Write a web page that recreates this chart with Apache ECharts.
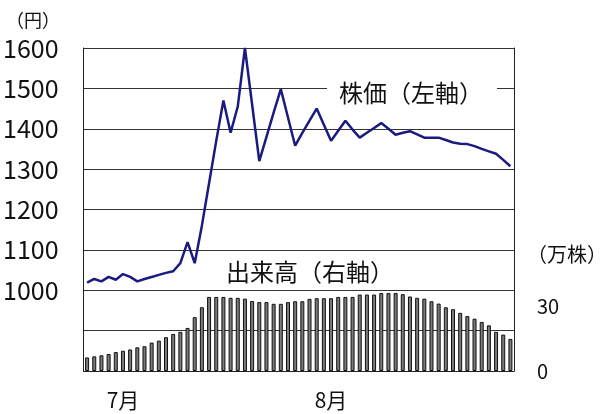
<!DOCTYPE html>
<html>
<head>
<meta charset="utf-8">
<script src="https://cdn.jsdelivr.net/npm/echarts@6/dist/echarts.min.js"></script>
<style>
html,body{margin:0;padding:0;background:#fff;}
#chart{width:600px;height:414px;}
</style>
</head>
<body>
<div id="chart"></div>
<script>
// Categories: 60 trading days; only month starts labelled
const days = ['', '', '', '', '', '7月', '', '', '', '',
  '', '', '', '', '', '', '', '', '', '',
  '', '', '', '', '', '', '', '', '', '',
  '', '', '', '', '8月', '', '', '', '', '',
  '', '', '', '', '', '', '', '', '', '',
  '', '', '', '', '', '', '', '', '', ''];

// Stock price (円), left axis
const price = [1019, 1028, 1022, 1033, 1026, 1040, 1033, 1022, 1028, 1033,
  1038, 1043, 1047, 1067, 1119, 1067, 1160, 1265, 1370, 1470,
  1390, 1455, 1600, 1460, 1320, 1380, 1440, 1498, 1428, 1358,
  1390, 1420, 1450, 1410, 1370, 1395, 1420, 1398, 1378, 1390,
  1402, 1414, 1400, 1385, 1390, 1394, 1386, 1378, 1378, 1378,
  1372, 1366, 1363, 1362, 1357, 1350, 1344, 1338, 1323, 1307];

// Volume (万株), right axis
const volume = [6.3, 6.8, 7.3, 7.9, 8.8, 9.4, 10.0, 11.0, 11.5, 13.2,
  14.1, 15.7, 17.2, 18.2, 20.0, 25.0, 29.6, 34.4, 34.4, 34.4,
  34.0, 34.0, 33.6, 32.5, 32.0, 32.0, 31.2, 31.2, 32.0, 32.4,
  32.4, 33.5, 33.8, 33.8, 33.8, 34.4, 34.4, 34.4, 35.5, 35.5,
  35.5, 36.2, 36.2, 36.2, 35.7, 34.6, 34.0, 33.6, 32.4, 31.3,
  29.6, 28.7, 27.0, 25.5, 24.3, 22.8, 21.2, 18.2, 16.9, 14.9];

// Tick labels
const leftTicks = [1000, 1100, 1200, 1300, 1400, 1500, 1600];
const rightTicks = [0, 30];

const FONT = '"Noto Sans CJK JP", "Noto Sans", sans-serif';
const chart = echarts.init(document.getElementById('chart'), null, {renderer: 'canvas'});

chart.setOption({
  animation: false,
  backgroundColor: '#fff',
  grid: {left: 80, right: 86, top: 48, bottom: 43, containLabel: false},
  xAxis: {
    type: 'category',
    data: days,
    boundaryGap: true,
    axisLine: {show: true, lineStyle: {color: '#222', width: 1}},
    axisTick: {show: false},
    axisLabel: {interval: 0, margin: 19, fontSize: 21, color: '#111', fontFamily: FONT},
    splitLine: {show: false}
  },
  yAxis: [{
    type: 'value',
    min: 800, max: 1600, interval: 100,
    axisLine: {show: true, lineStyle: {color: '#222', width: 1}},
    axisTick: {show: false},
    axisLabel: {
      margin: 25, fontSize: 25, color: '#111', fontFamily: FONT,
      padding: [5, 0, 0, 0],
      formatter: v => leftTicks.indexOf(v) >= 0 ? String(v) : ''
    },
    splitLine: {show: true, lineStyle: {color: '#333', width: 1}}
  }, {
    type: 'value',
    min: 0, max: 150, interval: 30,
    position: 'right',
    axisLine: {show: true, lineStyle: {color: '#222', width: 1}},
    axisTick: {show: false},
    axisLabel: {
      margin: 23, fontSize: 20, color: '#111', fontFamily: FONT,
      padding: [7, 0, 0, 0],
      formatter: v => rightTicks.indexOf(v) >= 0 ? String(v) : ''
    },
    splitLine: {show: false}
  }],
  series: [{
    type: 'bar',
    yAxisIndex: 1,
    data: volume,
    barWidth: 4,
    itemStyle: {color: '#7a7a7a', borderColor: '#111', borderWidth: 1}
  }, {
    type: 'line',
    yAxisIndex: 0,
    data: price,
    symbol: 'none',
    lineStyle: {color: '#1a1a80', width: 2.5},
    z: 5
  }],
  graphic: [
    {type: 'rect', z: 50, shape: {x: 327, y: 72, width: 170, height: 40}, style: {fill: '#fff'}},
    {type: 'text', z: 51, x: 339, y: 93, style: {text: '株価（左軸）', font: '24px ' + FONT, fill: '#111', align: 'left', verticalAlign: 'middle'}},
    {type: 'rect', z: 50, shape: {x: 212, y: 254, width: 195, height: 34}, style: {fill: '#fff'}},
    {type: 'text', z: 51, x: 226, y: 272, style: {text: '出来高（右軸）', font: '24px ' + FONT, fill: '#111', align: 'left', verticalAlign: 'middle'}},
    {type: 'text', z: 51, x: 6, y: 20, style: {text: '（円）', font: '18px ' + FONT, fill: '#111', align: 'left', verticalAlign: 'middle'}},
    {type: 'text', z: 51, x: 527, y: 254, style: {text: '（万株）', font: '20px ' + FONT, fill: '#111', align: 'left', verticalAlign: 'middle'}}
  ]
});
</script>
</body>
</html>
